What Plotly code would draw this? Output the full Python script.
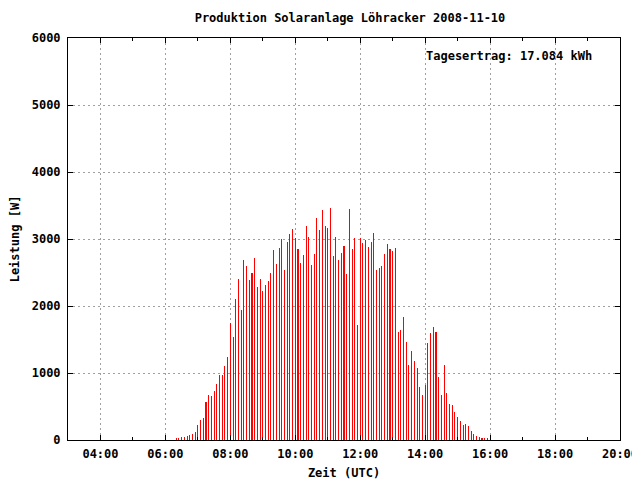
import plotly.graph_objects as go

DATE = "2008-11-10"

times = [
    "06:20", "06:25", "06:30", "06:35", "06:40", "06:45", "06:50", "06:55",
    "07:00", "07:05", "07:10", "07:15", "07:20", "07:25", "07:30", "07:35",
    "07:40", "07:45", "07:50", "07:55",
    "08:00", "08:05", "08:10", "08:15", "08:20", "08:25", "08:30", "08:35",
    "08:40", "08:45", "08:50", "08:55",
    "09:00", "09:05", "09:10", "09:15", "09:20", "09:25", "09:30", "09:35",
    "09:40", "09:45", "09:50", "09:55",
    "10:00", "10:05", "10:10", "10:15", "10:20", "10:25", "10:30", "10:35",
    "10:40", "10:45", "10:50", "10:55",
    "11:00", "11:05", "11:10", "11:15", "11:20", "11:25", "11:30", "11:35",
    "11:40", "11:45", "11:50", "11:55",
    "12:00", "12:05", "12:10", "12:15", "12:20", "12:25", "12:30", "12:35",
    "12:40", "12:45", "12:50", "12:55",
    "13:00", "13:05", "13:10", "13:15", "13:20", "13:25", "13:30", "13:35",
    "13:40", "13:45", "13:50", "13:55",
    "14:00", "14:05", "14:10", "14:15", "14:20", "14:25", "14:30", "14:35",
    "14:40", "14:45", "14:50", "14:55",
    "15:00", "15:05", "15:10", "15:15", "15:20", "15:25", "15:30", "15:35",
    "15:40", "15:45", "15:50", "15:55", "16:00",
]

power_w = [
    20, 20, 40, 50, 65, 75, 90, 125,
    225, 305, 335, 570, 670, 655, 735, 840,
    975, 975, 1110, 1245,
    1745, 1540, 2110, 2410, 1945, 2690, 2600, 2395,
    2500, 2720, 2290, 2410,
    2230, 2320, 2380, 2500, 2840, 2630, 2870, 3005,
    2530, 2960, 3080, 3155,
    3020, 2855, 2645, 2765, 3200, 3035, 2615, 2780,
    3320, 3140, 3440, 3200,
    3170, 3470, 2750, 3035, 2690, 2795, 2900, 2480,
    3450, 2855, 3020, 1720,
    3020, 2945, 2990, 2885, 2960, 3095, 2530, 2570,
    2600, 2780, 2930, 2855,
    2825, 2870, 1615, 1645, 1840, 1470, 1125, 1335,
    1185, 1080, 795, 675,
    825, 1455, 1600, 1690, 1615, 945, 675, 1125,
    705, 540, 525, 425,
    350, 290, 230, 245, 215, 140, 95, 65,
    50, 35, 20, 20, 20,
]

title_text = "Produktion Solaranlage Löhracker 2008-11-10"
yield_text = "Tagesertrag: 17.084 kWh"
x_title = "Zeit (UTC)"
y_title = "Leistung [W]"
x_range = ["03:00", "20:00"]
y_ticks = [0, 1000, 2000, 3000, 4000, 5000, 6000]

FONT = "DejaVu Sans Mono"
x_vals = [f"{DATE} {t}" for t in times]

# The page body has an 8px margin, so the figure is 8px smaller.
W, H = 632, 472
ML, MR, MT, MB = 60, 20, 30, 40

fig = go.Figure()
fig.add_trace(go.Bar(
    x=x_vals, y=power_w,
    width=10000,
    marker=dict(color="#ff0000", line=dict(width=0)),
    showlegend=False,
))

axis_common = dict(
    showline=True, linecolor="black", linewidth=1, mirror="allticks",
    ticks="inside", tickcolor="black", tickwidth=1, ticklen=5,
    showgrid=True, gridcolor="#a0a0a0", gridwidth=1, griddash="2px,3px",
    zeroline=False, automargin=False,
    tickfont=dict(family=FONT, size=12, color="black", weight="bold"),
)

fig.update_layout(
    width=W, height=H,
    margin=dict(l=ML, r=MR, t=MT, b=MB),
    paper_bgcolor="white", plot_bgcolor="white",
    font=dict(family=FONT, size=12, color="black"),
    bargap=0,
    title=dict(text=title_text, x=342 / W, xref="container", xanchor="center",
               y=1 - 10 / H, yref="container", yanchor="middle",
               automargin=False,
               font=dict(family=FONT, size=12, color="black", weight="bold")),
    xaxis=dict(
        type="date",
        range=[f"{DATE} {x_range[0]}", f"{DATE} {x_range[1]}"],
        tick0=f"{DATE} 04:00", dtick=2 * 3600 * 1000, tickformat="%H:%M",
        minor=dict(ticks="inside", dtick=3600 * 1000, ticklen=3,
                   tickcolor="black", showgrid=False),
        title=dict(text=x_title, standoff=9,
                   font=dict(family=FONT, size=12, color="black", weight="bold")),
        ticklabelstandoff=3,
        **axis_common,
    ),
    yaxis=dict(
        range=[0, 6000], tickvals=y_ticks,
        title=dict(text=y_title, standoff=11,
                   font=dict(family=FONT, size=12, color="black", weight="bold")),
        ticklabelstandoff=4,
        **axis_common,
    ),
    annotations=[dict(
        text=yield_text, xref="paper", yref="paper",
        x=(424 - 68) / 552, y=(440 - 56) / 402,
        xanchor="left", yanchor="middle", showarrow=False,
        font=dict(family=FONT, size=12, color="black", weight="bold"),
    )],
)

fig.write_html("out.html")
